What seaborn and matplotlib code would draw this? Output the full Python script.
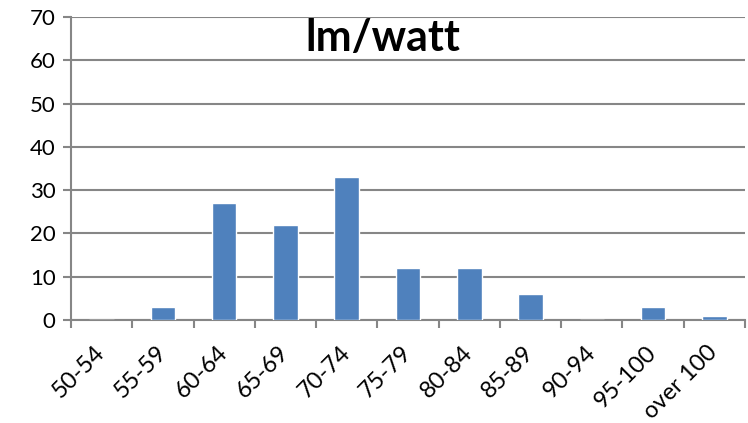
import matplotlib
matplotlib.use("Agg")
import matplotlib.pyplot as plt
import matplotlib.transforms as mtransforms
import seaborn as sns
import pandas as pd
import numpy as np

# Efficacy bins and counts of lamps in each
categories = ["50-54", "55-59", "60-64", "65-69", "70-74", "75-79",
              "80-84", "85-89", "90-94", "95-100", "over 100"]
counts = [0, 3, 27, 22, 33, 12, 12, 6, 0, 3, 1]
y_ticks = [0, 10, 20, 30, 40, 50, 60, 70]

sns.set_theme(style="white")
plt.rcParams["font.family"] = ["Lato", "DejaVu Sans"]

df = pd.DataFrame({"bin": categories, "count": counts})

fig = plt.figure(figsize=(7.48, 4.23), dpi=100)
ax = fig.add_axes([0.0949, 0.2435, 0.9011, 0.7163])

sns.barplot(data=df, x="bin", y="count", color="#4F81BD", width=0.4,
            saturation=1, ax=ax, zorder=3)

grid_color = "#868686"
ax.set_ylim(0, 70)
ax.set_xlim(-0.5, len(categories) - 0.5)
ax.set_yticks(y_ticks)
ax.set_yticklabels([str(v) for v in y_ticks], fontsize=16, color="#000000")
for v in y_ticks:
    ax.axhline(v, color=grid_color, lw=1.5, zorder=1)

# category labels centred under bars, tick marks on the bin boundaries
ax.set_xticks(range(len(categories)))
ax.set_xticklabels(categories, rotation=45, ha="right", va="center",
                   rotation_mode="anchor", fontsize=17, color="#000000")
shift = mtransforms.ScaledTranslation(7 / 100, 0, fig.dpi_scale_trans)
for lbl in ax.get_xticklabels():
    lbl.set_transform(lbl.get_transform() + shift)
ax.set_xticks(np.arange(-0.5, len(categories)), minor=True)
ax.tick_params(axis="x", which="major", length=0, pad=21)
ax.tick_params(axis="x", which="minor", length=6, width=1.5, color=grid_color,
               direction="out", bottom=True)
ax.tick_params(axis="y", length=6, width=1.5, color=grid_color,
               direction="out", left=True, pad=5)

ax.set_xlabel("")
ax.set_ylabel("")
for side in ["top", "right"]:
    ax.spines[side].set_visible(False)
for side in ["left", "bottom"]:
    ax.spines[side].set_color(grid_color)
    ax.spines[side].set_linewidth(1.5)

ax.text(0.463, 0.93, "lm/watt", transform=ax.transAxes, ha="center",
        va="center", fontsize=31, fontweight="bold", color="#000000", zorder=5)

fig.savefig("out.png", dpi=100)
